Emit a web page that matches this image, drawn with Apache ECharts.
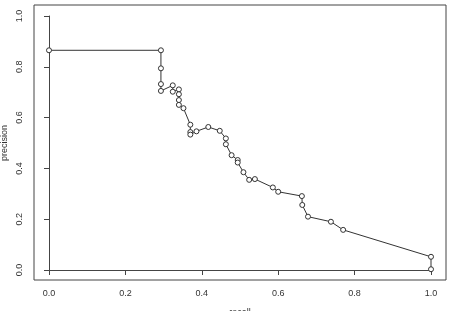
<!DOCTYPE html>
<html>
<head>
<meta charset="utf-8">
<script src="https://cdn.jsdelivr.net/npm/echarts@6/dist/echarts.min.js"></script>
<style>
  html, body { margin: 0; padding: 0; background: #fff; }
  #chart { width: 449px; height: 311px; }
</style>
</head>
<body>
<div id="chart"></div>
<script>
// 数据：召回率 / 精确率
var recall = [0.000, 0.293, 0.293, 0.293, 0.293, 0.324, 0.324, 0.340, 0.340, 0.340,
  0.340, 0.352, 0.370, 0.370, 0.370, 0.386, 0.417, 0.447, 0.463, 0.463,
  0.478, 0.494, 0.494, 0.509, 0.524, 0.539, 0.586, 0.600, 0.662, 0.663,
  0.678, 0.738, 0.770, 1.000, 1.000];
var precision = [0.865, 0.865, 0.794, 0.732, 0.705, 0.727, 0.702, 0.711, 0.692, 0.669,
  0.650, 0.637, 0.572, 0.543, 0.533, 0.546, 0.563, 0.548, 0.518, 0.495,
  0.452, 0.433, 0.423, 0.385, 0.355, 0.358, 0.325, 0.308, 0.291, 0.256,
  0.210, 0.190, 0.158, 0.052, 0.003];
var xTicks = [0, 0.2, 0.4, 0.6, 0.8, 1.0];
var yTicks = [0, 0.2, 0.4, 0.6, 0.8, 1.0];

var points = recall.map(function (r, i) { return [r, precision[i]]; });

var chart = echarts.init(document.getElementById('chart'), null, { renderer: 'canvas' });

var labelFont = { fontFamily: 'Liberation Sans, Arial, sans-serif', fontSize: 9, color: '#333' };

var option = {
  animation: false,
  backgroundColor: '#fff',
  grid: [
    // 外框
    { left: 34, right: 3, top: 5, bottom: 31, show: true, borderColor: '#444', borderWidth: 1,
      backgroundColor: 'transparent', outerBoundsMode: 'none', containLabel: false },
    // 数据区
    { left: 49, right: 18, top: 16, bottom: 41, outerBoundsMode: 'none', containLabel: false }
  ],
  xAxis: [
    { gridIndex: 0, type: 'value', min: 0, max: 1, show: false },
    {
      gridIndex: 1, type: 'value', min: xTicks[0], max: xTicks[xTicks.length - 1], interval: 0.2, offset: 10,
      name: 'recall', nameLocation: 'middle', nameGap: 28, nameMoveOverlap: false,
      nameTextStyle: labelFont,
      axisLine: { show: true, lineStyle: { color: '#444', width: 1 } },
      axisTick: { show: true, inside: false, length: 5, lineStyle: { color: '#444' } },
      axisLabel: Object.assign({ margin: 9, formatter: function (v) { return v.toFixed(1); } }, labelFont),
      splitLine: { show: false }
    }
  ],
  yAxis: [
    { gridIndex: 0, type: 'value', min: 0, max: 1, show: false },
    {
      gridIndex: 1, type: 'value', min: yTicks[0], max: yTicks[yTicks.length - 1], interval: 0.2, offset: 15,
      name: 'precision', nameLocation: 'middle', nameGap: 25, nameRotate: 90, nameMoveOverlap: false,
      nameTextStyle: labelFont,
      axisLine: { show: true, lineStyle: { color: '#444', width: 1 } },
      axisTick: { show: true, inside: false, length: 5, lineStyle: { color: '#444' } },
      axisLabel: Object.assign({ margin: 10, rotate: 90, formatter: function (v) { return v.toFixed(1); } }, labelFont),
      splitLine: { show: false }
    }
  ],
  series: [{
    type: 'line',
    xAxisIndex: 1,
    yAxisIndex: 1,
    data: points,
    symbol: 'circle',
    symbolSize: 5,
    showAllSymbol: true,
    lineStyle: { color: '#333', width: 1 },
    itemStyle: { color: '#fff', borderColor: '#333', borderWidth: 1 }
  }]
};

chart.setOption(option);
</script>
</body>
</html>
